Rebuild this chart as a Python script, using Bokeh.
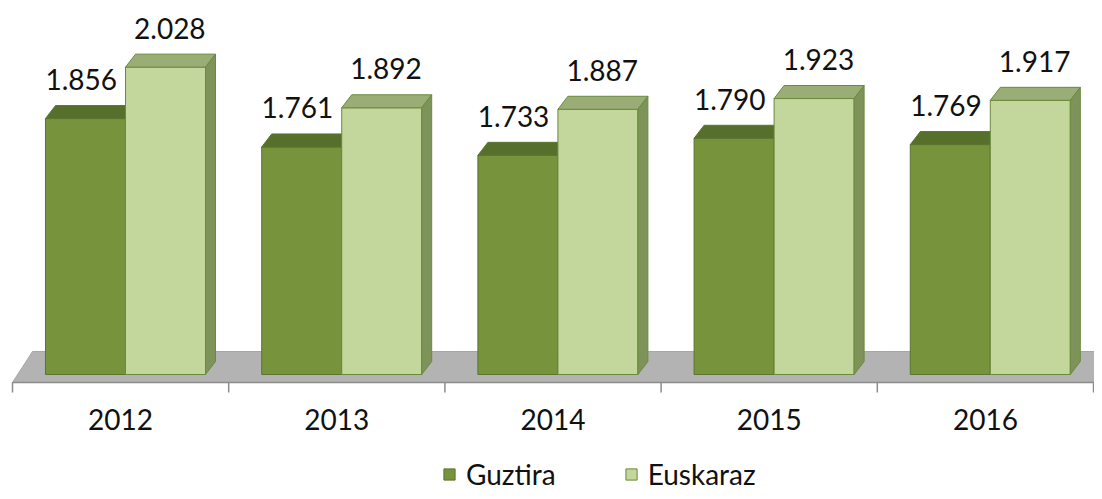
from bokeh.plotting import figure
from bokeh.models import Range1d, Legend, LegendItem, ColumnDataSource
from bokeh.core.properties import value
from bokeh.embed import file_html
from bokeh.resources import INLINE

# ---- data ----
years = ["2012", "2013", "2014", "2015", "2016"]
guztira = [1856, 1761, 1733, 1790, 1769]
euskaraz = [2028, 1892, 1887, 1923, 1917]
labels_g = ["1.856", "1.761", "1.733", "1.790", "1.769"]
labels_e = ["2.028", "1.892", "1.887", "1.923", "1.917"]
series_names = ["Guztira", "Euskaraz"]

# ---- geometry / style constants ----
W, H = 1094, 491
PX_X = 216.2          # px per category
PX_Y = 0.299          # px per value unit
X0_PX = 12            # canvas px of category boundary 0
BASE = 1000           # bar base value
BASE_PX = 374         # canvas px of bar base
DX = 10 / PX_X        # depth shift x
DY = 13 / PX_Y        # depth shift y
G_L, G_R = 0.1526, 0.5227
E_L, E_R = 0.5227, 0.8927
FLOOR_FRONT = BASE - 8 / PX_Y
FLOOR_BACK = BASE + 23 / PX_Y
FLOOR_DX = 20 / PX_X
TICK_LEN = 10 / PX_Y
FONT = "Lato"
FS = "28px"

x_start = -X0_PX / PX_X
x_end = x_start + W / PX_X
y_end = BASE + BASE_PX / PX_Y
y_start = y_end - H / PX_Y

p = figure(width=W, height=H, output_backend="svg", toolbar_location=None,
           x_range=Range1d(x_start, x_end), y_range=Range1d(y_start, y_end),
           min_border=0, outline_line_color=None)
p.axis.visible = False
p.grid.visible = False
p.background_fill_color = "white"
p.border_fill_color = "white"

n = len(years)
# floor
p.patch([0, FLOOR_DX, n + FLOOR_DX, n], [FLOOR_FRONT, FLOOR_BACK, FLOOR_BACK, FLOOR_FRONT],
        fill_color="#b3b3b3", line_color="#a6a6a6", line_width=1)
p.line([0, n], [FLOOR_FRONT, FLOOR_FRONT], line_color="#8c8c8c", line_width=1.5)
p.segment(x0=list(range(n + 1)), y0=[FLOOR_FRONT] * (n + 1),
          x1=list(range(n + 1)), y1=[FLOOR_FRONT - TICK_LEN] * (n + 1),
          line_color="#8c8c8c", line_width=1.5)


def bars(vals, l, r, front, top, side, outline):
    lefts = [i + l for i in range(n)]
    rights = [i + r for i in range(n)]
    src = ColumnDataSource(dict(left=lefts, right=rights, top=vals, bottom=[BASE] * n))
    ren = p.quad(left="left", right="right", top="top", bottom="bottom", source=src,
                 fill_color=front, line_color=outline, line_width=1)
    top_xs = [[a, a + DX, b + DX, b] for a, b in zip(lefts, rights)]
    top_ys = [[v, v + DY, v + DY, v] for v in vals]
    p.patches(top_xs, top_ys, fill_color=top, line_color=outline, line_width=1)
    side_xs = [[b, b + DX, b + DX, b] for b in rights]
    side_ys = [[BASE, BASE + DY, v + DY, v] for v in vals]
    p.patches(side_xs, side_ys, fill_color=side, line_color=outline, line_width=1)
    return ren


rg = bars(guztira, G_L, G_R, "#77933c", "#56702b", "#4f6228", "#5a7630")
re_ = bars(euskaraz, E_L, E_R, "#c3d69b", "#9aad76", "#7e935a", "#6a8a3c")

# data labels
p.text(x=[i + (G_L + G_R) / 2 - 0.02 for i in range(n)], y=guztira, text=labels_g,
       y_offset=-39, text_align="center", text_baseline="alphabetic",
       text_font=value(FONT), text_font_size=FS, text_color="#111111")
p.text(x=[i + (E_L + E_R) / 2 + 0.02 for i in range(n)], y=euskaraz, text=labels_e,
       y_offset=-39, text_align="center", text_baseline="alphabetic",
       text_font=value(FONT), text_font_size=FS, text_color="#111111")

# category labels
p.text(x=[i + 0.5 for i in range(n)], y=[FLOOR_FRONT] * n, text=years,
       y_offset=37, text_align="center", text_baseline="middle",
       text_font=value(FONT), text_font_size=FS, text_color="#111111")

legend = Legend(items=[LegendItem(label=series_names[0], renderers=[rg]),
                       LegendItem(label=series_names[1], renderers=[re_])],
                orientation="horizontal", location=(442, 0),
                label_text_font=FONT, label_text_font_size=FS,
                label_text_color="#111111", label_height=18,
                glyph_width=14, glyph_height=14, label_standoff=10, spacing=68,
                padding=0, margin=0, border_line_color=None,
                background_fill_alpha=0)
p.add_layout(legend)

open("out.html", "w").write(file_html(p, INLINE))
